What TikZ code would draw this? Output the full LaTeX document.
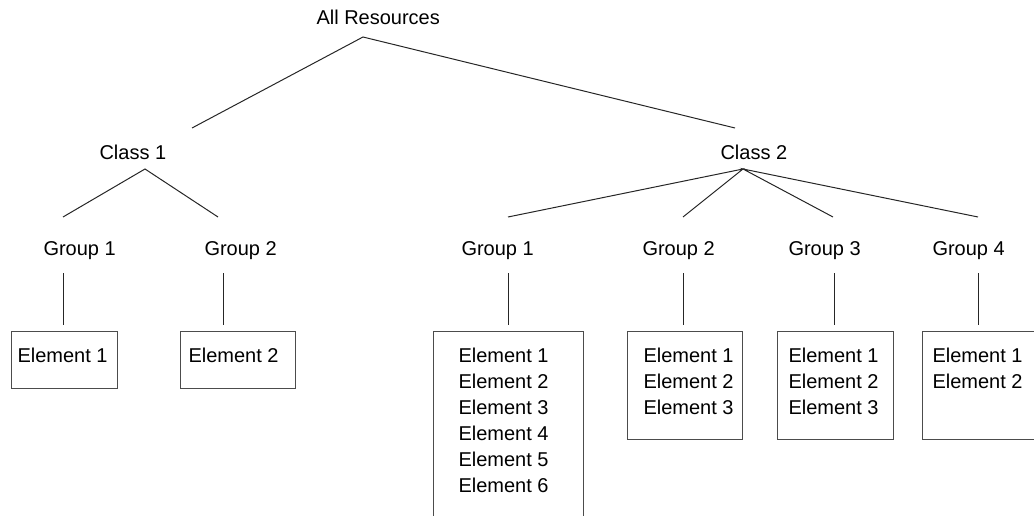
\documentclass[tikz,border=0pt]{standalone}
\usepackage{fontspec}
\setmainfont{Liberation Sans}
\begin{document}
\begin{tikzpicture}[x=1pt,y=-1pt,line width=1pt]
    \tikzstyle{lbl}=[inner sep=0pt,anchor=base west,font=\fontsize{20}{26}\selectfont]
    \tikzstyle{lines}=[draw=black!85]
    \tikzstyle{elembox}=[draw=black!70,inner sep=0pt,anchor=north west]
    \clip (0,0) rectangle (1034,516);

    \node[lbl] (all) at (316,25) {All Resources};
    \node[lbl] (class1) at (99,160) {Class 1};
    \node[lbl] (class2) at (720,160) {Class 2};
    \node[lbl] (g11) at (43,255) {Group 1};
    \node[lbl] (g12) at (204,255) {Group 2};
    \node[lbl] (g21) at (461,255) {Group 1};
    \node[lbl] (g22) at (642,255) {Group 2};
    \node[lbl] (g23) at (788,255) {Group 3};
    \node[lbl] (g24) at (932,255) {Group 4};

    \coordinate (all-s) at (363,37);
    \coordinate (c1-n) at (192,128);
    \coordinate (c2-n) at (735,128);
    \coordinate (c1-s) at (145,169);
    \coordinate (c2-s) at (743,169);
    \coordinate (g11-n) at (63,217);
    \coordinate (g12-n) at (218,217);
    \coordinate (g21-n) at (508,217);
    \coordinate (g22-n) at (683,217);
    \coordinate (g23-n) at (833,217);
    \coordinate (g24-n) at (978,217);
    \coordinate (g11-s) at (63,273);
    \coordinate (g12-s) at (223,273);
    \coordinate (g21-s) at (508,273);
    \coordinate (g22-s) at (683,273);
    \coordinate (g23-s) at (834,273);
    \coordinate (g24-s) at (978,273);

    \node[elembox,minimum width=106,minimum height=57] (box11) at (11,331) {};
    \node[elembox,minimum width=115,minimum height=57] (box12) at (180,331) {};
    \node[elembox,minimum width=150,minimum height=200] (box21) at (433,331) {};
    \node[elembox,minimum width=115,minimum height=108] (box22) at (627,331) {};
    \node[elembox,minimum width=116,minimum height=108] (box23) at (777,331) {};
    \node[elembox,minimum width=150,minimum height=108] (box24) at (922,331) {};

    \node[lbl] (e11-1) at (17,362) {Element 1};
    \node[lbl] (e12-2) at (188,362) {Element 2};
    \foreach \i in {1,...,6}
      \node[lbl] (e21-\i) at (458,{362+26*(\i-1)}) {Element \i};
    \foreach \i in {1,...,3}
      \node[lbl] (e22-\i) at (643,{362+26*(\i-1)}) {Element \i};
    \foreach \i in {1,...,3}
      \node[lbl] (e23-\i) at (788,{362+26*(\i-1)}) {Element \i};
    \foreach \i in {1,2}
      \node[lbl] (e24-\i) at (932,{362+26*(\i-1)}) {Element \i};

    \draw[lines] (c1-n) -- (all-s) -- (c2-n);
    \draw[lines] (g11-n) -- (c1-s) -- (g12-n);
    \draw[lines] (g21-n) -- (c2-s) -- (g22-n);
    \draw[lines] (g23-n) -- (c2-s) -- (g24-n);

    \draw[lines,shorten >=6pt] (g11-s) -- (g11-s |- box11.north);
    \draw[lines,shorten >=6pt] (g12-s) -- (g12-s |- box12.north);
    \draw[lines,shorten >=6pt] (g21-s) -- (g21-s |- box21.north);
    \draw[lines,shorten >=6pt] (g22-s) -- (g22-s |- box22.north);
    \draw[lines,shorten >=6pt] (g23-s) -- (g23-s |- box23.north);
    \draw[lines,shorten >=6pt] (g24-s) -- (g24-s |- box24.north);
\end{tikzpicture}
\end{document}
